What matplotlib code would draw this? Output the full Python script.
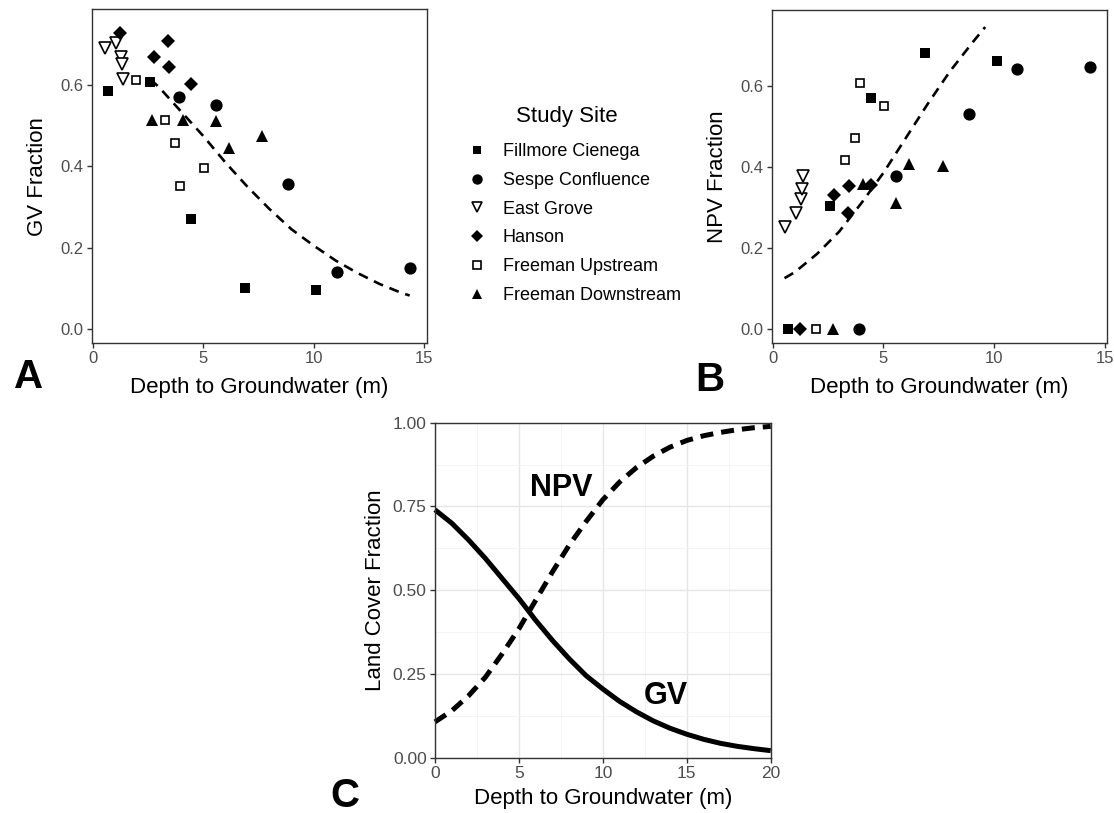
import numpy as np
import matplotlib.pyplot as plt
from matplotlib.lines import Line2D

plt.rcParams['font.family'] = ['Liberation Sans', 'DejaVu Sans']

# --- data ---------------------------------------------------------------
sites = ['Fillmore Cienega', 'Sespe Confluence', 'East Grove',
         'Hanson', 'Freeman Upstream', 'Freeman Downstream']

fillmore_depth = [0.67, 2.58, 4.43, 6.90, 10.12]
fillmore_gv = [0.585, 0.609, 0.271, 0.100, 0.095]
fillmore_npv = [0.0, 0.302, 0.570, 0.680, 0.660]

sespe_depth = [3.90, 5.58, 8.85, 11.05, 14.35]
sespe_gv = [0.572, 0.551, 0.357, 0.141, 0.150]
sespe_npv = [0.0, 0.377, 0.530, 0.642, 0.646]

eastgrove_depth = [0.54, 1.05, 1.29, 1.31, 1.36]
eastgrove_gv = [0.691, 0.703, 0.669, 0.652, 0.615]
eastgrove_npv = [0.252, 0.285, 0.320, 0.344, 0.377]

hanson_depth = [1.22, 2.76, 3.42, 3.45, 4.46]
hanson_gv = [0.728, 0.670, 0.708, 0.646, 0.602]
hanson_npv = [0.0, 0.330, 0.285, 0.353, 0.355]

fup_depth = [1.96, 3.26, 3.71, 3.93, 5.03]
fup_gv = [0.613, 0.515, 0.458, 0.351, 0.396]
fup_npv = [0.0, 0.417, 0.471, 0.607, 0.550]

fdown_depth = [2.70, 4.08, 5.58, 6.15, 7.68]
fdown_gv = [0.515, 0.515, 0.513, 0.445, 0.476]
fdown_npv = [0.0, 0.357, 0.310, 0.408, 0.402]

# fitted curves (panel A / B dashed lines)
fitA_depth = [2.6, 3, 4, 5, 6, 7, 8, 9, 10, 11, 12, 13, 14, 14.35]
fitA_gv = [0.615, 0.595, 0.535, 0.475, 0.41, 0.35, 0.295, 0.245, 0.205,
           0.168, 0.137, 0.11, 0.088, 0.082]
fitB_depth = [0.53, 1, 2, 3, 4, 5, 6, 7, 8, 9, 9.6]
fitB_npv = [0.125, 0.14, 0.185, 0.24, 0.31, 0.385, 0.47, 0.555, 0.635,
            0.705, 0.745]

# panel C model curves
curve_depth = np.arange(0, 21)
curve_gv = [0.74, 0.70, 0.65, 0.595, 0.535, 0.475, 0.41, 0.35, 0.295, 0.245,
            0.205, 0.168, 0.137, 0.11, 0.088, 0.07, 0.055, 0.043, 0.034,
            0.027, 0.021]
curve_npv = [0.107, 0.14, 0.185, 0.24, 0.31, 0.385, 0.47, 0.555, 0.635,
             0.705, 0.77, 0.823, 0.866, 0.90, 0.927, 0.947, 0.961, 0.971,
             0.979, 0.985, 0.989]

depths = [fillmore_depth, sespe_depth, eastgrove_depth, hanson_depth, fup_depth, fdown_depth]
gvs = [fillmore_gv, sespe_gv, eastgrove_gv, hanson_gv, fup_gv, fdown_gv]
npvs = [fillmore_npv, sespe_npv, eastgrove_npv, hanson_npv, fup_npv, fdown_npv]

# marker styles (ggplot shapes 15, 16, 6, 18, 0, 17)
styles = [
    dict(marker='s', ms=7.0, mfc='black', mec='black', mew=0),
    dict(marker='o', ms=8.8, mfc='black', mec='black', mew=0),
    dict(marker='v', ms=8.0, mfc='white', mec='black', mew=1.2),
    dict(marker='D', ms=7.0, mfc='black', mec='black', mew=0),
    dict(marker='s', ms=6.4, mfc='white', mec='black', mew=1.2),
    dict(marker='^', ms=8.8, mfc='black', mec='black', mew=0),
]

W, H = 1114, 813
fig = plt.figure(figsize=(W / 100, H / 100), dpi=100)


def px_axes(l, t, r, b):
    return fig.add_axes([l / W, 1 - b / H, (r - l) / W, (b - t) / H])


def style_box(ax, c='#333333'):
    for s in ax.spines.values():
        s.set_color(c)
        s.set_linewidth(1.0)
    ax.tick_params(direction='out', length=3.5, width=1.0, color=c,
                   labelcolor='#4D4D4D', labelsize=12, pad=2.5)


axA = px_axes(91.7, 9.3, 426.7, 343)
axB = px_axes(771.7, 10, 1107.3, 343)

for ax, yvals, fx, fy, ylab in [(axA, gvs, fitA_depth, fitA_gv, 'GV Fraction'),
                                (axB, npvs, fitB_depth, fitB_npv, 'NPV Fraction')]:
    ax.plot(fx, fy, color='black', lw=1.9, linestyle=(0, (3.8, 2.6)),
            dash_capstyle='butt', zorder=2)
    for d, v, st in zip(depths, yvals, styles):
        ax.plot(d, v, linestyle='none', zorder=3, **st)
    ax.set_xlim(-0.05, 15.12)
    ax.set_ylim(-0.035, 0.787)
    ax.set_xticks([0, 5, 10, 15])
    ax.set_yticks([0, 0.2, 0.4, 0.6])
    ax.set_yticklabels(['0.0', '0.2', '0.4', '0.6'])
    style_box(ax)
    ax.set_xlabel('Depth to Groundwater (m)', fontsize=16, labelpad=8)
    ax.set_ylabel(ylab, fontsize=16, labelpad=9)

# panel C
axC = px_axes(435, 422.7, 770.7, 757.7)
axC.set_xlim(0, 20)
axC.set_ylim(0, 1)
axC.set_xticks([0, 5, 10, 15, 20])
axC.set_xticks([2.5, 7.5, 12.5, 17.5], minor=True)
axC.set_yticks([0, 0.25, 0.5, 0.75, 1.0])
axC.set_yticklabels(['0.00', '0.25', '0.50', '0.75', '1.00'])
axC.set_yticks([0.125, 0.375, 0.625, 0.875], minor=True)
axC.grid(True, which='major', color='#E6E6E6', lw=1.0)
axC.grid(True, which='minor', color='#F2F2F2', lw=0.6)
axC.tick_params(which='minor', length=0)
axC.set_axisbelow(True)
axC.plot(curve_depth, curve_gv, color='black', lw=3.6, solid_capstyle='butt',
         solid_joinstyle='round', clip_on=False)
axC.plot(curve_depth, curve_npv, color='black', lw=3.6,
         linestyle=(0, (2.6, 1.6)), dash_capstyle='butt', clip_on=False)
axC.text(7.5, 0.805, 'NPV', fontsize=22, fontweight='bold', ha='center', va='center')
axC.text(13.76, 0.184, 'GV', fontsize=22, fontweight='bold', ha='center', va='center')
style_box(axC)
axC.tick_params(labelsize=12.5)
axC.set_xlabel('Depth to Groundwater (m)', fontsize=16, labelpad=5)
axC.set_ylabel('Land Cover Fraction', fontsize=16, labelpad=5)

# legend
handles = [Line2D([], [], linestyle='none', **dict(st, ms=st['ms'] * 0.85))
           for st in styles]
leg = fig.legend(handles, sites, loc='upper left',
                 bbox_to_anchor=(469.5 / W, 1 - 143 / H),
                 frameon=False, fontsize=13,
                 handlelength=0.8, handletextpad=1.05,
                 labelspacing=0.655, borderpad=0, borderaxespad=0)
fig.text(567 / W, 1 - 122 / H, 'Study Site', fontsize=16, ha='center', va='baseline')

# panel letters
fig.text(29 / W, 1 - 377 / H, 'A', fontsize=29, fontweight='bold', ha='center', va='center')
fig.text(710 / W, 1 - 380 / H, 'B', fontsize=29, fontweight='bold', ha='center', va='center')
fig.text(345 / W, 1 - 796 / H, 'C', fontsize=29, fontweight='bold', ha='center', va='center')

fig.savefig('out.png', dpi=100)
